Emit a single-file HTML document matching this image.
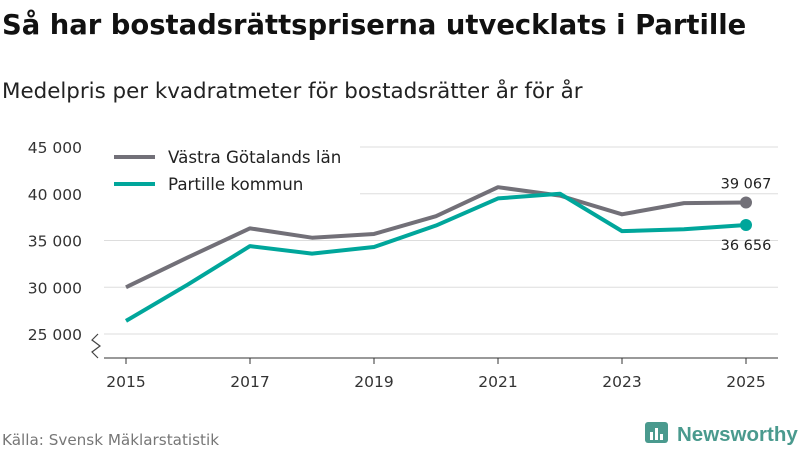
<!DOCTYPE html>
<html><head><meta charset="utf-8"><style>
body{margin:0;width:800px;height:450px;background:#fff;font-family:"DejaVu Sans",sans-serif;overflow:hidden}
svg{font-family:"DejaVu Sans",sans-serif}
</style></head><body>
<svg width="800" height="450" xmlns="http://www.w3.org/2000/svg">
<text x="2" y="34" font-size="27.4" font-weight="bold" fill="#111">Så har bostadsrättspriserna utvecklats i Partille</text>
<text x="2" y="98" font-size="21.4" fill="#222">Medelpris per kvadratmeter för bostadsrätter år för år</text>
<g id="grid"></g><g id="series"></g>
<g>
<rect x="104" y="140" width="256" height="56" fill="#fff"/>
<line x1="114" y1="157" x2="155" y2="157" stroke="#727078" stroke-width="4"/>
<text x="168" y="163" font-size="16.7" fill="#222">Västra Götalands län</text>
<line x1="114" y1="184" x2="155" y2="184" stroke="#00a69b" stroke-width="4"/>
<text x="168" y="190" font-size="16.7" fill="#222">Partille kommun</text>
</g>
<path d="M98 334 L92 340 L100 346 L92 352 L98 358" stroke="#444" fill="none" stroke-width="1.2"/>
<text x="2" y="445" font-size="15.2" fill="#777">Källa: Svensk Mäklarstatistik</text>
<g>
<rect x="645" y="422" width="23" height="21" rx="3" fill="#4a9a8e"/>
<rect x="650" y="432" width="3" height="8" fill="#fff"/><rect x="655" y="428" width="3" height="12" fill="#fff"/><rect x="660" y="434" width="3" height="6" fill="#fff"/>
<text x="677" y="441" font-size="20.5" font-weight="bold" fill="#4a9a8e" style="font-family:'Liberation Sans',sans-serif">Newsworthy</text>
</g>
</svg>
<script>
const years=[2015,2016,2017,2018,2019,2020,2021,2022,2023,2024,2025];
const vastra=[30000,33200,36300,35300,35700,37600,40700,39800,37800,39000,39067];
const partille=[26400,30300,34400,33600,34300,36600,39500,40000,36000,36200,36656];
const yTicks=[25000,30000,35000,40000,45000];
const xTicks=[2015,2017,2019,2021,2023,2025];
const NS="http://www.w3.org/2000/svg";
const x=v=>126+(v-2015)*62;
const y=v=>334-(v-25000)*187/20000;
const fmt=v=>String(v).replace(/\B(?=(\d{3})+(?!\d))/g,"\u00a0");
function mk(t,a,p){const e=document.createElementNS(NS,t);for(const k in a)e.setAttribute(k,a[k]);p.appendChild(e);return e;}
const g=document.getElementById('grid'),s=document.getElementById('series');
yTicks.forEach(v=>{
const l=mk('line',{x1:104,x2:778,y1:y(v),y2:y(v),stroke:'#ddd','stroke-width':1},g);


const t=mk('text',{x:82,y:y(v)+6,'text-anchor':'end','font-size':15.5,fill:'#333'},g);t.textContent=fmt(v);


});
const ax=mk('line',{x1:104,x2:778,y1:358,y2:358,stroke:'#333','stroke-width':1},g);


xTicks.forEach(v=>{
mk('line',{x1:x(v),x2:x(v),y1:358,y2:364,stroke:'#333'},g);
const t=mk('text',{x:x(v),y:387,'text-anchor':'middle','font-size':15.5,fill:'#333'},g);t.textContent=v;


});
function line(vals,col,name,lblDy){
const p=mk('polyline',{points:vals.map((v,i)=>x(years[i])+','+y(v)).join(' '),fill:'none',stroke:col,'stroke-width':4,'stroke-linejoin':'round'},s);


const n=vals.length-1;
const c=mk('circle',{cx:x(years[n]),cy:y(vals[n]),r:6,fill:col},s);


const t=mk('text',{x:x(years[n]),y:y(vals[n])+lblDy,'text-anchor':'middle','font-size':14.5,fill:'#222'},s);t.textContent=fmt(vals[n]);


}
line(vastra,'#727078','vastra-gotaland',-14);
line(partille,'#00a69b','partille',25);
</script>
</body></html>
